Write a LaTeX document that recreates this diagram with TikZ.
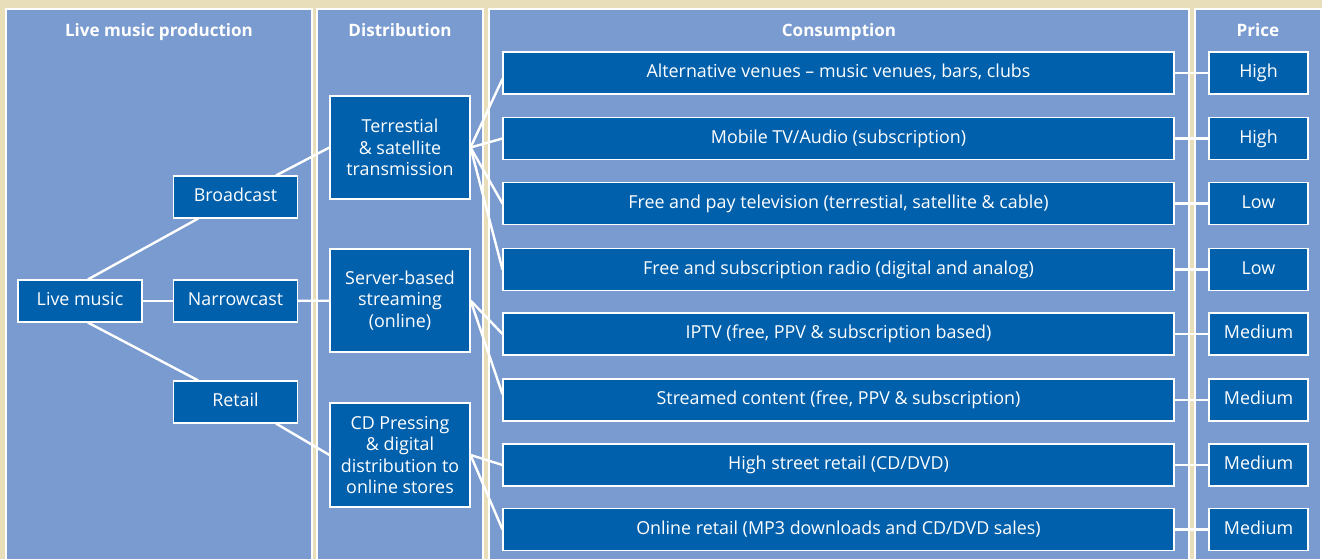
\documentclass[tikz,border=0pt]{standalone}
\usepackage{fontspec}
\setmainfont{Open Sans}
\definecolor{sand}{HTML}{E8DFBA}
\definecolor{lanecol}{HTML}{7A9BD0}
\definecolor{navy}{HTML}{0060AC}

\begin{document}
\begin{tikzpicture}[x=0.75pt, y=-0.75pt,
  lane/.style={fill=lanecol, draw=white, line width=0.8pt},
  head/.style={font=\fontsize{12.8}{15}\selectfont\bfseries, text=white, anchor=base},
  box/.style={draw=white, fill=navy, text=white, line width=0.8pt,
    minimum height=31.5pt, inner sep=2pt, align=center,
    font=\fontsize{13.4}{16.2}\selectfont},
  row/.style={box, text height=1.35ex, text depth=0pt},
  link/.style={white, line width=1.8pt}]
\fill[sand] (0,0) rectangle (1322,559);
\useasboundingbox (0,0) rectangle (1322,559);

% the four columns
\draw[lane] (6,9) rectangle (312,570);
\draw[lane] (317,9) rectangle (483,570);
\draw[lane] (489,9) rectangle (1189,570);
\draw[lane] (1195,9) rectangle (1321,570);
\node[head] (hprod) at (159,36.5) {Live music production};
\node[head] (hdist) at (400,36.5) {Distribution};
\node[head] (hcons) at (839,36.5) {Consumption};
\node[head] (hprice) at (1258,36.5) {Price};

% production
\node[row, minimum width=93pt] (live) at (80,301) {Live music};
\node[row, minimum width=93pt] (broad) at (235.5,197) {Broadcast};
\node[row, minimum width=93pt] (narrow) at (235.5,301) {Narrowcast};
\node[row, minimum width=93pt] (retail) at (235.5,402) {Retail};

% distribution
\node[box, minimum width=105pt, minimum height=77.25pt] (terr) at (400,147.5)
  {Terrestial\\\& satellite\\transmission};
\node[box, minimum width=105pt, minimum height=77.25pt] (server) at (400,300.5)
  {Server-based\\streaming\\(online)};
\node[box, minimum width=105pt, minimum height=78pt] (cd) at (400,455)
  {CD Pressing\\\& digital\\distribution to\\online stores};

% consumption and price rows
\foreach \y/\txt/\pr [count=\i] in {
  73/{Alternative venues – music venues, bars, clubs}/High,
  138.5/{Mobile TV/Audio (subscription)}/High,
  203.5/{Free and pay television (terrestial, satellite \& cable)}/Low,
  269.5/{Free and subscription radio (digital and analog)}/Low,
  334/{IPTV (free, PPV \& subscription based)}/Medium,
  400/{Streamed content (free, PPV \& subscription)}/Medium,
  465/{High street retail (CD/DVD)}/Medium,
  529.5/{Online retail (MP3 downloads and CD/DVD sales)}/Medium}
{
  \node[row, minimum width=503.25pt] (c\i) at (838.5,\y) {\txt};
  \node[row, minimum width=74.25pt] (p\i) at (1258.5,\y) {\pr};
  \draw[link] (c\i) -- (p\i);
}

% connectors
\draw[link] (live) -- (narrow);
\draw[link] (live.70) -- (broad.210);
\draw[link] (live.-70) -- (retail.150);
\draw[link] (broad.28) -- (terr.west);
\draw[link] (narrow) -- (server);
\draw[link] (retail.-28) -- (cd.west);
\draw[link] (terr.east) -- (c1.181);
\draw[link] (terr.east) -- (c2.west);
\draw[link] (terr.east) -- (c3.west);
\draw[link] (terr.east) -- (c4.west);
\draw[link] (server.east) -- (c5.west);
\draw[link] (server.east) -- (c6.179);
\draw[link] (cd.east) -- (c7.west);
\draw[link] (cd.east) -- (c8.west);
\end{tikzpicture}
\end{document}
